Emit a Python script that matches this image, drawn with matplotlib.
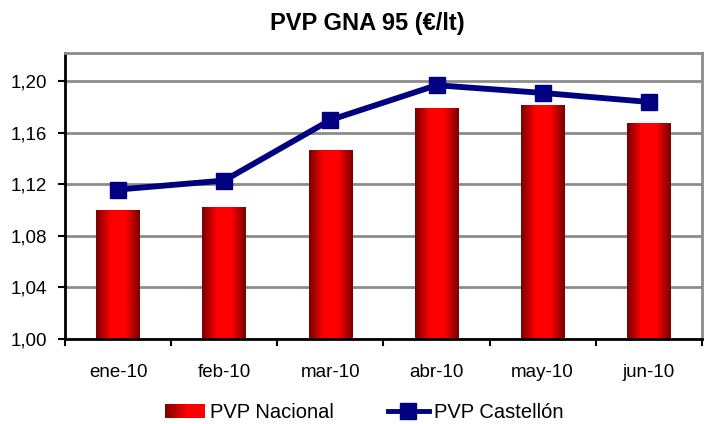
import matplotlib
matplotlib.use('Agg')
import matplotlib.pyplot as plt
import numpy as np
from matplotlib.colors import LinearSegmentedColormap
from matplotlib.patches import Rectangle
from matplotlib.lines import Line2D
from matplotlib.legend_handler import HandlerBase

plt.rcParams['font.family'] = ['Liberation Sans', 'DejaVu Sans']

meses = ['ene-10', 'feb-10', 'mar-10', 'abr-10', 'may-10', 'jun-10']
pvp_nacional = [1.100, 1.102, 1.146, 1.179, 1.181, 1.167]
pvp_castellon = [1.116, 1.123, 1.170, 1.197, 1.191, 1.184]
y_ticks = [1.00, 1.04, 1.08, 1.12, 1.16, 1.20]

fig = plt.figure(figsize=(7.04, 4.24), dpi=100)
ax = fig.add_axes([0.0923, 0.2005, 0.9047, 0.6745])

x = np.arange(len(meses))
ancho = 0.41
y0 = 1.0

# degradado rojo de las barras
cmap = LinearSegmentedColormap.from_list('rojo', ['#780000', '#ff0000', '#ff0000', '#780000'])
grad = np.linspace(0, 1, 256).reshape(1, -1)
barras = ax.bar(x, np.array(pvp_nacional) - y0, bottom=y0, width=ancho, color='none', zorder=2)
for b in barras:
    bx, by = b.get_x(), b.get_y()
    w, h = b.get_width(), b.get_height()
    ax.imshow(grad, cmap=cmap, aspect='auto', extent=[bx, bx + w, by, by + h], zorder=2)

ax.plot(x, pvp_castellon, color='#000080', linewidth=4.2, marker='s', markersize=11,
        zorder=3, solid_capstyle='butt')

ax.set_xlim(-0.5, len(meses) - 0.5)
ax.set_ylim(1.0, 1.222)
ax.set_yticks(y_ticks)
ax.set_yticklabels([f'{v:.2f}'.replace('.', ',') for v in y_ticks], fontsize=13.5)
ax.set_xticks(np.arange(len(meses) + 1) - 0.5)
ax.set_xticklabels([])
ax.set_xticks(x, minor=True)
ax.set_xticklabels(meses, minor=True, fontsize=13.5)
ax.tick_params(axis='x', which='minor', length=0, pad=18)
ax.tick_params(axis='x', which='major', length=5, width=1.5)
ax.tick_params(axis='y', length=5, width=1.5, pad=8)

ax.grid(axis='y', color='#8c8c8c', linewidth=2, zorder=0)
ax.set_axisbelow(True)
ax.spines['left'].set_linewidth(2)
ax.spines['bottom'].set_linewidth(2)
ax.spines['top'].set_color('#8c8c8c')
ax.spines['right'].set_color('#8c8c8c')
ax.spines['top'].set_linewidth(2)
ax.spines['right'].set_linewidth(2)

fig.text(0.522, 0.945, 'PVP GNA 95 (€/lt)', ha='center', va='center', fontsize=17, fontweight='bold')


# leyenda con el mismo degradado
class HandlerDegradado(HandlerBase):
    def create_artists(self, legend, orig_handle, xdescent, ydescent, width, height, fontsize, trans):
        n = 30
        arts = []
        for i in range(n):
            r = Rectangle((-xdescent + width * i / n, -ydescent), width / n + 0.3, height,
                          facecolor=cmap((i + 0.5) / n * 0.6), edgecolor='none', transform=trans)
            arts.append(r)
        return arts


proxy_barra = Rectangle((0, 0), 1, 1)
proxy_linea = Line2D([], [], color='#000080', linewidth=3.5, marker='s', markersize=11)
fig.legend([proxy_barra, proxy_linea], ['PVP Nacional', 'PVP Castellón'],
           handler_map={Rectangle: HandlerDegradado()},
           loc='center', bbox_to_anchor=(0.517, 0.028), ncol=2, frameon=False,
           fontsize=14.5, handlelength=2.0, handletextpad=0.25, columnspacing=2.7,
           borderaxespad=0, borderpad=0)

fig.savefig('out.png', dpi=100)
